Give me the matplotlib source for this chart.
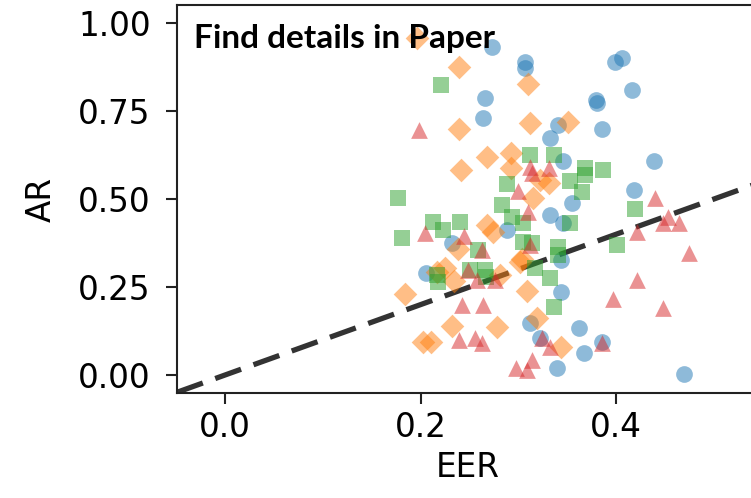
import matplotlib.pyplot as plt
import numpy as np

# EER / AR values, one pair of lists per series
blue_eer = [0.273, 0.307, 0.307, 0.399, 0.406, 0.416, 0.266, 0.264, 0.379, 0.380,
            0.341, 0.332, 0.386, 0.439, 0.346, 0.418, 0.355, 0.332, 0.346, 0.288,
            0.344, 0.344, 0.312, 0.362, 0.322, 0.385, 0.367, 0.339, 0.469, 0.206,
            0.232]
blue_ar = [0.933, 0.890, 0.871, 0.890, 0.900, 0.810, 0.786, 0.729, 0.781, 0.772,
           0.710, 0.672, 0.700, 0.608, 0.608, 0.526, 0.488, 0.455, 0.431, 0.412,
           0.327, 0.237, 0.149, 0.133, 0.104, 0.095, 0.063, 0.019, 0.003, 0.289,
           0.374]

orange_eer = [0.196, 0.239, 0.310, 0.239, 0.312, 0.351, 0.268, 0.292, 0.241, 0.292,
              0.331, 0.315, 0.322, 0.268, 0.274, 0.238, 0.217, 0.225, 0.234, 0.184,
              0.232, 0.278, 0.202, 0.211, 0.304, 0.309, 0.319, 0.344, 0.281, 0.302]
orange_ar = [0.956, 0.876, 0.827, 0.699, 0.715, 0.720, 0.620, 0.630, 0.582, 0.587,
             0.545, 0.503, 0.554, 0.426, 0.407, 0.358, 0.293, 0.303, 0.267, 0.230,
             0.139, 0.136, 0.095, 0.095, 0.331, 0.239, 0.161, 0.080, 0.284, 0.322]

green_eer = [0.221, 0.177, 0.181, 0.213, 0.223, 0.240, 0.217, 0.218, 0.251, 0.266,
             0.267, 0.259, 0.312, 0.336, 0.288, 0.368, 0.368, 0.387, 0.353, 0.365,
             0.283, 0.293, 0.305, 0.353, 0.305, 0.314, 0.341, 0.341, 0.317, 0.332,
             0.336, 0.419, 0.401]
green_ar = [0.824, 0.503, 0.388, 0.435, 0.412, 0.435, 0.284, 0.264, 0.298, 0.298,
            0.279, 0.355, 0.625, 0.625, 0.543, 0.587, 0.568, 0.582, 0.551, 0.520,
            0.483, 0.450, 0.431, 0.431, 0.379, 0.374, 0.364, 0.341, 0.303, 0.275,
            0.194, 0.473, 0.369]

red_eer = [0.198, 0.312, 0.314, 0.331, 0.300, 0.310, 0.205, 0.244, 0.263, 0.312,
           0.249, 0.258, 0.276, 0.242, 0.264, 0.239, 0.256, 0.263, 0.324, 0.332,
           0.298, 0.309, 0.314, 0.385, 0.440, 0.421, 0.453, 0.448, 0.464, 0.474,
           0.421, 0.397, 0.448]
red_ar = [0.696, 0.592, 0.573, 0.587, 0.522, 0.464, 0.403, 0.395, 0.355, 0.369,
          0.298, 0.270, 0.270, 0.199, 0.199, 0.099, 0.104, 0.090, 0.104, 0.080,
          0.019, 0.014, 0.043, 0.090, 0.503, 0.407, 0.450, 0.431, 0.431, 0.348,
          0.270, 0.216, 0.189]

x_ticks = [0.0, 0.2, 0.4]
y_ticks = [0.0, 0.25, 0.5, 0.75, 1.0]

fig = plt.figure(figsize=(7.51, 4.98), dpi=100)
# the axes run a little past the right edge of the picture, like the reference crop
ax = fig.add_axes([177 / 751, 105 / 498, 582 / 751, 388 / 498])

series = [
    (blue_eer, blue_ar, "tab:blue", "o"),
    (orange_eer, orange_ar, "tab:orange", "D"),
    (green_eer, green_ar, "tab:green", "s"),
    (red_eer, red_ar, "tab:red", "^"),
]
for xs, ys, col, mk in series:
    ax.scatter(xs, ys, s=145, c=col, marker=mk, alpha=0.5, linewidths=0, zorder=2)

ax.axline((0, 0), slope=1, color="#333333", lw=3.8, dashes=(5.2, 2.5), zorder=1)

ax.set_xlim(-0.049, 0.546)
ax.set_ylim(-0.051, 1.051)
ax.set_xticks(x_ticks, [f"{v:.1f}" for v in x_ticks])
ax.set_yticks(y_ticks, [f"{v:.2f}" for v in y_ticks])
ax.tick_params(labelsize=23.5, length=8, width=1.5, color="#222222")
ax.tick_params(axis="x", pad=5)
ax.tick_params(axis="y", pad=11)
for sp in ax.spines.values():
    sp.set_linewidth(1.5)
    sp.set_color("#222222")

ax.set_xlabel("EER", fontsize=23.5)
ax.set_ylabel("AR", fontsize=23.5)
ax.xaxis.set_label_coords(0.5, -0.15)
ax.yaxis.set_label_coords(-0.205, 0.5)

ax.text(0.029, 0.889, "Find details in Paper", transform=ax.transAxes,
        fontsize=24, fontweight="bold", family="Lato", va="baseline", zorder=5)

fig.savefig("out.png", dpi=100)
